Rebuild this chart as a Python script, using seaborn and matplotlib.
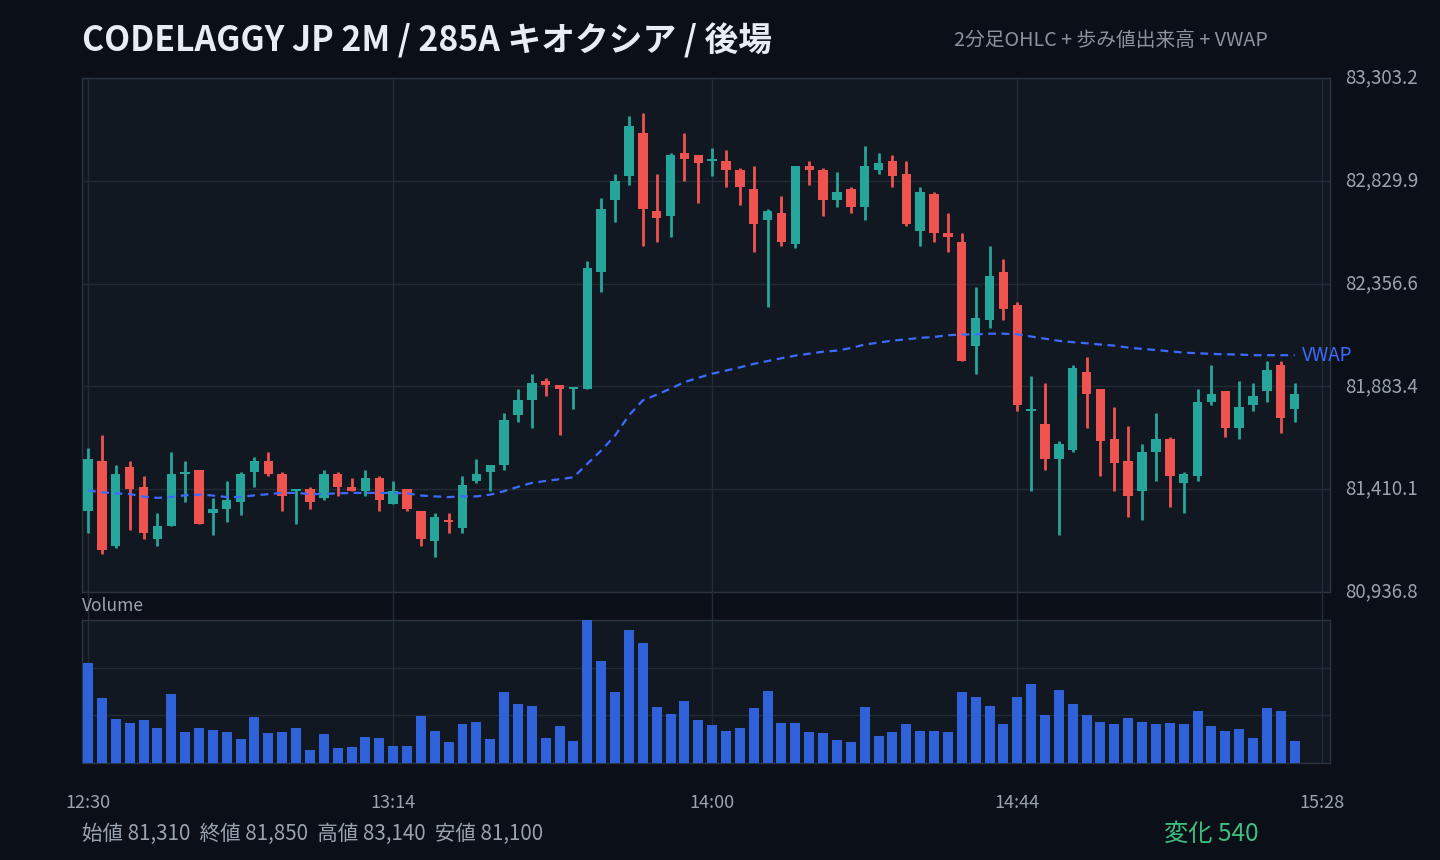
import numpy as np
import pandas as pd
import matplotlib
matplotlib.use("Agg")
import matplotlib.pyplot as plt
import seaborn as sns

# ---------------- data ----------------
start_label = "12:30"
bar_minutes = 2
opens = [81310, 81540, 81150, 81510, 81420, 81180, 81240, 81480, 81500, 81300,
         81320, 81350, 81490, 81540, 81480, 81400, 81410, 81370, 81480, 81420,
         81400, 81460, 81340, 81410, 81310, 81170, 81270, 81230, 81450, 81490,
         81520, 81750, 81820, 81910, 81890, 81870, 81870, 82410, 82740, 82850,
         83050, 82690, 82670, 82960, 82950, 82920, 82920, 82880, 82790, 82650,
         82680, 82540, 82900, 82880, 82740, 82790, 82710, 82880, 82920, 82860,
         82600, 82770, 82590, 82550, 82070, 82190, 82410, 82260, 81770, 81710,
         81550, 81590, 81950, 81870, 81640, 81540, 81400, 81580, 81640, 81440,
         81470, 81810, 81860, 81690, 81800, 81860, 81980, 81780]
highs = [81600, 81660, 81520, 81540, 81470, 81300, 81580, 81540, 81500, 81370,
         81450, 81490, 81560, 81580, 81490, 81410, 81420, 81500, 81490, 81460,
         81500, 81470, 81450, 81410, 81310, 81300, 81300, 81470, 81550, 81520,
         81760, 81870, 81940, 81920, 81890, 81880, 82460, 82750, 82860, 83130,
         83140, 82860, 82960, 83050, 82950, 82980, 82970, 82890, 82900, 82700,
         82760, 82900, 82920, 82890, 82870, 82800, 82990, 82960, 82950, 82920,
         82800, 82780, 82680, 82590, 82340, 82530, 82470, 82270, 81930, 81900,
         81630, 81980, 82020, 81870, 81790, 81700, 81620, 81760, 81650, 81490,
         81870, 81980, 81860, 81910, 81900, 82000, 82000, 81900]
lows = [81210, 81110, 81140, 81220, 81180, 81150, 81240, 81350, 81250, 81200,
        81260, 81290, 81420, 81470, 81310, 81250, 81320, 81360, 81380, 81400,
        81380, 81310, 81340, 81310, 81150, 81100, 81210, 81210, 81440, 81400,
        81500, 81720, 81690, 81840, 81660, 81780, 81870, 82320, 82640, 82810,
        82530, 82550, 82570, 82830, 82730, 82850, 82800, 82720, 82500, 82250,
        82530, 82520, 82810, 82670, 82710, 82680, 82650, 82860, 82800, 82620,
        82530, 82550, 82500, 82000, 81940, 82150, 82190, 81770, 81400, 81500,
        81200, 81580, 81690, 81470, 81400, 81280, 81270, 81450, 81330, 81300,
        81450, 81800, 81650, 81640, 81770, 81810, 81670, 81720]
closes = [81550, 81130, 81480, 81410, 81210, 81240, 81480, 81490, 81250, 81320,
          81360, 81480, 81540, 81480, 81380, 81410, 81350, 81480, 81420, 81400,
          81460, 81360, 81400, 81320, 81180, 81280, 81260, 81430, 81480, 81520,
          81730, 81820, 81900, 81890, 81870, 81880, 82430, 82700, 82830, 83080,
          82700, 82660, 82950, 82930, 82910, 82930, 82880, 82800, 82630, 82690,
          82550, 82900, 82880, 82740, 82780, 82710, 82900, 82910, 82850, 82630,
          82780, 82590, 82570, 82000, 82200, 82390, 82240, 81800, 81780, 81550,
          81620, 81970, 81850, 81630, 81530, 81380, 81580, 81640, 81470, 81480,
          81810, 81850, 81690, 81790, 81840, 81960, 81740, 81850]
volumes = [29900, 19400, 13100, 11900, 12800, 10400, 20600, 9200, 10400, 9800,
           9200, 7100, 13700, 8900, 9200, 10400, 3800, 8600, 4400, 4700,
           7700, 7400, 5000, 5000, 14000, 9500, 6200, 11600, 12200, 7100,
           21200, 17600, 17000, 7400, 11000, 6500, 42800, 30500, 21200, 39800,
           35900, 16700, 14600, 18500, 12800, 11300, 9500, 10400, 16400, 21500,
           11900, 11900, 9200, 8900, 6800, 6200, 16700, 8000, 9200, 11600,
           9500, 9500, 9200, 21200, 19700, 17000, 11600, 19700, 23600, 14300,
           21800, 17600, 14300, 12200, 11600, 13400, 12200, 11600, 11900, 11600,
           15500, 11000, 9500, 10100, 7400, 16400, 15500, 6500]
vwap = [81404, 81396, 81391, 81388, 81376, 81370, 81374, 81382, 81385, 81381,
        81374, 81374, 81382, 81387, 81393, 81393, 81388, 81388, 81391, 81393,
        81393, 81393, 81393, 81391, 81381, 81377, 81374, 81377, 81377, 81385,
        81401, 81421, 81439, 81448, 81456, 81465, 81527, 81588, 81657, 81750,
        81819, 81845, 81873, 81903, 81923, 81942, 81956, 81971, 81987, 82000,
        82013, 82025, 82034, 82043, 82048, 82060, 82076, 82085, 82094, 82100,
        82107, 82111, 82119, 82122, 82123, 82126, 82126, 82123, 82113, 82103,
        82093, 82087, 82082, 82076, 82071, 82062, 82056, 82051, 82045, 82039,
        82036, 82033, 82031, 82030, 82027, 82027, 82027, 82027]
xtick_labels = ["12:30", "13:14", "14:00", "14:44", "15:28"]

title = "CODELAGGY JP 2M / 285A キオクシア / 後場"
subtitle = "2分足OHLC + 歩み値出来高 + VWAP"

# ---------------- styling ----------------
BG = "#0b0f17"
PANEL = "#111822"
GRID = "#222b36"
BORDER = "#2a3340"
TXT = "#9aa4b0"
UP = "#26a69a"
DOWN = "#ef5350"
VWAPC = "#3d6bff"
VOLC = "#2f62d8"
FAM = ["Noto Sans CJK JP", "DejaVu Sans"]

sns.set_theme(style="dark", rc={"axes.facecolor": PANEL, "figure.facecolor": BG})
plt.rcParams["font.family"] = FAM

n = len(opens)
t = np.arange(n) * bar_minutes
df = pd.DataFrame({"t": t, "open": opens, "high": highs, "low": lows,
                   "close": closes, "volume": volumes, "vwap": vwap})
df["up"] = df["close"] >= df["open"]
df["color"] = np.where(df["up"], UP, DOWN)

def to_min(lbl):
    h, m = map(int, lbl.split(":"))
    h0, m0 = map(int, start_label.split(":"))
    return (h * 60 + m) - (h0 * 60 + m0)

xticks = [to_min(l) for l in xtick_labels]

W, H = 1440, 860
fig = plt.figure(figsize=(W / 100, H / 100), dpi=100)
fig.patch.set_facecolor(BG)

def rect(l, t_, r, b):
    return [l / W, 1 - b / H, (r - l) / W, (b - t_) / H]

ax = fig.add_axes(rect(82, 78, 1330, 592))
axv = fig.add_axes(rect(82, 620, 1330, 762.5))

xlim = (-0.87, 179.1)

# ---- price panel ----
lo, hi = df["low"].min(), df["high"].max()
pad = (hi - lo) * 0.08
ylo, yhi = lo - pad, hi + pad
yt = np.linspace(ylo, yhi, 6)

ax.vlines(df["t"], df["low"], df["high"], colors=df["color"], linewidth=2.0, zorder=3)
body_bottom = np.minimum(df["open"], df["close"])
body_h = np.maximum((df["close"] - df["open"]).abs(), 10)
ax.bar(df["t"], body_h, bottom=body_bottom, width=bar_minutes * 0.68,
       color=df["color"], linewidth=0, zorder=4)
sns.lineplot(data=df, x="t", y="vwap", ax=ax, color=VWAPC, linewidth=1.6,
             linestyle=(0, (3.5, 2.5)), zorder=5)
ax.text(df["t"].iloc[-1] + 1.1, df["vwap"].iloc[-1], "VWAP", color=VWAPC,
        fontsize=13.5, va="center", ha="left", family=FAM)

ax.set_xlim(*xlim)
ax.set_ylim(ylo, yhi)
ax.set_yticks(yt)
ax.set_yticklabels([f"{v:,.1f}" for v in yt])
ax.yaxis.tick_right()
ax.tick_params(axis="y", length=0, pad=11, labelcolor=TXT, labelsize=13.5)
ax.set_xticks(xticks)
ax.tick_params(axis="x", length=0, labelbottom=False)
ax.set_xlabel("")
ax.set_ylabel("")
ax.grid(True, color=GRID, linewidth=1.0)
ax.set_axisbelow(True)
for s in ax.spines.values():
    s.set_color(BORDER)
    s.set_linewidth(1.0)
for lab in ax.get_yticklabels():
    lab.set_verticalalignment("center")

# ---- volume panel ----
sns.barplot(data=df, x="t", y="volume", native_scale=True, color=VOLC,
            width=0.72, ax=axv, saturation=1, linewidth=0, zorder=3)
vmax = df["volume"].max()
axv.set_ylim(0, vmax)
axv.set_yticks(np.linspace(0, vmax, 4)[1:3])
axv.set_yticklabels([])
axv.set_xlim(*xlim)
axv.set_xticks(xticks)
axv.set_xticklabels(xtick_labels)
axv.tick_params(axis="x", length=0, pad=23, labelcolor=TXT, labelsize=13)
axv.tick_params(axis="y", length=0)
axv.set_xlabel("")
axv.set_ylabel("")
axv.grid(True, axis="y", color=GRID, linewidth=1.0)
axv.set_axisbelow(True)
for s in axv.spines.values():
    s.set_color(BORDER)
    s.set_linewidth(1.0)
gap_frac = (620 - 592) / (762.5 - 620)
for xt_ in xticks:
    axv.axvline(xt_, ymin=0, ymax=1 + gap_frac, color=GRID, linewidth=1.0,
                clip_on=False, zorder=1)
fig.text(82 / W, 1 - 606 / H, "Volume", color=TXT, fontsize=12.5, va="center", ha="left")

# ---- texts ----
fig.text(82 / W, 1 - 41 / H, title, color="#e6edf3", fontsize=24.3, fontweight="bold",
         va="center", ha="left")
fig.text(1268 / W, 1 - 41 / H, subtitle, color="#8b949e", fontsize=14.2,
         va="center", ha="right")
summary = (f"始値 {opens[0]:,}  終値 {closes[-1]:,}  高値 {max(highs):,}  安値 {min(lows):,}")
fig.text(82 / W, 1 - 834 / H, summary, color=TXT, fontsize=14.8, va="center", ha="left")
chg = closes[-1] - opens[0]
fig.text(1259 / W, 1 - 834 / H, f"変化 {chg:,}", color="#3fbf7f", fontsize=17.5,
         va="center", ha="right")

fig.savefig("out.png", dpi=100, facecolor=BG)
